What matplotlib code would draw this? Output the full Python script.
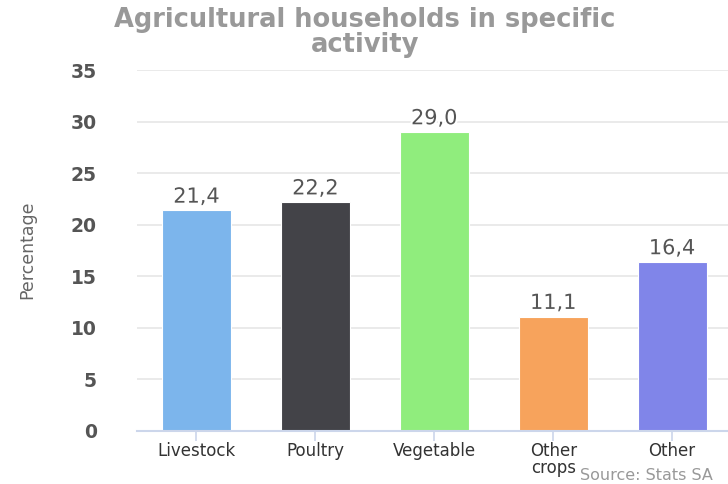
import matplotlib.pyplot as plt
import matplotlib.patheffects as pe

categories = ["Livestock", "Poultry", "Vegetable", "Other\ncrops", "Other"]
values = [21.4, 22.2, 29.0, 11.1, 16.4]
colors = ["#7cb5ec", "#434348", "#90ed7d", "#f7a35c", "#8085e9"]
yticks = [0, 5, 10, 15, 20, 25, 30, 35]

fig = plt.figure(figsize=(7.28, 4.84), dpi=100)
ax = fig.add_axes([137 / 728, 53 / 484, 591 / 728, 361 / 484])

x = range(len(categories))
bars = ax.bar(x, values, width=0.58, color=colors, edgecolor="white", linewidth=0.8, zorder=2)

# value labels above bars, comma as decimal sign
for b, v in zip(bars, values):
    ax.text(b.get_x() + b.get_width() / 2, v + 0.35, f"{v:.1f}".replace(".", ","),
            ha="center", va="bottom", fontsize=15, color="#555555",
            path_effects=[pe.withStroke(linewidth=3, foreground="white")], zorder=3)

ax.set_xlim(-0.5, 4.47)
ax.set_ylim(0, 35)
ax.set_yticks(yticks)
ax.set_yticklabels([str(t) for t in yticks], fontsize=13.5, color="#555555", fontweight="bold")
ax.set_xticks(list(x))
ax.set_xticklabels(categories, fontsize=12, color="#333333", linespacing=0.92)
ax.tick_params(axis="y", length=0, pad=29)
ax.tick_params(axis="x", length=7, color="#ccd6eb", width=1.2, pad=1)

ax.grid(axis="y", color="#e6e6e6", linewidth=1.2, zorder=0)
for s in ["top", "right", "left"]:
    ax.spines[s].set_visible(False)
ax.spines["bottom"].set_color("#ccd6eb")
ax.spines["bottom"].set_linewidth(1.5)
ax.spines["bottom"].set_zorder(3)

fig.text(27 / 728, 1 - 250 / 484, "Percentage", rotation=90, ha="center", va="center",
         fontsize=12.5, color="#666666")

fig.text(365 / 728, 1 - 33 / 484, "Agricultural households in specific\nactivity",
         ha="center", va="center", fontsize=18.5, fontweight="bold", color="#999999",
         linespacing=0.95)

fig.text(580 / 728, 1 / 484, "Source: Stats SA", ha="left", va="bottom",
         fontsize=11.5, color="#999999")

fig.savefig("out.png", dpi=100)
